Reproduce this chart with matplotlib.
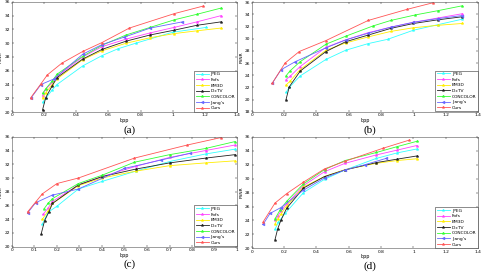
import matplotlib
matplotlib.use("Agg")
import matplotlib.pyplot as plt

# methods, colours and markers (same in all four panels)
methods = ["JPEG", "Fofs", "BM3D", "DicTV", "CONCOLOR", "Jiang's", "Ours"]
colors = ["#33ffff", "#ff44ff", "#ffee00", "#222222", "#33ff33", "#6666ff", "#ff5555"]
markers = ["*", "*", "*", "*", "*", "<", "*"]

# panel (a): bpp / PSNR
a_x = {
    "JPEG":     [0.19, 0.21, 0.25, 0.28, 0.44, 0.56, 0.66, 0.77, 1.0, 1.21],
    "Fofs":     [0.19, 0.21, 0.25, 0.28, 0.44, 0.56, 0.71, 0.86, 1.01, 1.15, 1.3],
    "BM3D":     [0.19, 0.21, 0.25, 0.28, 0.44, 0.56, 0.71, 0.86, 1.01, 1.15, 1.3],
    "DicTV":    [0.19, 0.21, 0.25, 0.28, 0.44, 0.56, 0.71, 0.86, 1.01, 1.15, 1.3],
    "CONCOLOR": [0.19, 0.21, 0.25, 0.28, 0.44, 0.56, 0.71, 0.86, 1.01, 1.15, 1.3],
    "Jiang's":  [0.117, 0.18, 0.26, 0.44, 0.56, 0.7, 0.86, 1.06],
    "Ours":     [0.117, 0.18, 0.22, 0.31, 0.44, 0.56, 0.73, 1.01, 1.19],
}
a_y = {
    "JPEG":     [21.4, 22.0, 23.2, 24.0, 26.7, 28.2, 29.2, 30.0, 31.6, 32.3],
    "Fofs":     [22.4, 23.3, 24.3, 25.2, 28.0, 29.5, 30.6, 31.5, 32.3, 33.1, 34.0],
    "BM3D":     [22.0, 22.8, 24.0, 24.8, 27.6, 28.9, 30.0, 30.8, 31.4, 31.8, 32.2],
    "DicTV":    [20.3, 22.1, 23.8, 25.0, 27.7, 29.1, 30.3, 31.2, 31.9, 32.6, 33.1],
    "CONCOLOR": [22.7, 23.4, 24.5, 25.5, 28.1, 29.7, 31.2, 32.3, 33.4, 34.2, 35.1],
    "Jiang's":  [22.0, 24.0, 24.8, 28.4, 29.8, 30.9, 32.2, 33.1],
    "Ours":     [22.1, 24.1, 25.4, 27.1, 28.8, 30.1, 32.2, 34.3, 35.4],
}

# panel (b)
b_x = {
    "JPEG":     [0.212, 0.232, 0.30, 0.459, 0.58, 0.72, 0.84, 1.0, 1.15, 1.3],
    "Fofs":     [0.212, 0.236, 0.298, 0.459, 0.58, 0.72, 0.86, 1.0, 1.15, 1.3],
    "BM3D":     [0.212, 0.236, 0.298, 0.459, 0.58, 0.72, 0.86, 1.0, 1.15, 1.3],
    "DicTV":    [0.212, 0.232, 0.30, 0.459, 0.58, 0.72, 0.86, 1.0, 1.15, 1.3],
    "CONCOLOR": [0.212, 0.236, 0.298, 0.459, 0.58, 0.75, 0.86, 1.01, 1.15, 1.3],
    "Jiang's":  [0.127, 0.181, 0.267, 0.459, 0.58, 0.72, 0.86, 1.0, 1.15, 1.3],
    "Ours":     [0.127, 0.206, 0.294, 0.459, 0.72, 0.957, 1.12],
}
b_y = {
    "JPEG":     [21.2, 22.0, 23.9, 26.6, 28.1, 29.2, 29.9, 31.4, 32.3, 33.2],
    "Fofs":     [23.3, 23.8, 25.4, 28.6, 29.8, 31.0, 31.9, 32.7, 33.4, 34.1],
    "BM3D":     [22.4, 23.0, 24.9, 28.1, 29.3, 30.3, 31.2, 31.8, 32.2, 32.5],
    "DicTV":    [20.0, 22.1, 24.7, 27.9, 29.5, 30.6, 31.7, 32.5, 33.1, 33.6],
    "CONCOLOR": [23.9, 24.7, 26.2, 29.1, 30.4, 32.1, 33.0, 33.9, 34.6, 35.4],
    "Jiang's":  [22.7, 24.9, 26.2, 28.5, 29.8, 30.9, 31.9, 32.7, 33.3, 33.8],
    "Ours":     [22.7, 26.0, 27.9, 29.7, 33.0, 34.8, 35.9],
}

# panel (c)
c_x = {
    "JPEG":     [0.135, 0.16, 0.2, 0.295, 0.4, 0.55, 0.7, 0.86, 0.99],
    "Fofs":     [0.138, 0.16, 0.18, 0.295, 0.4, 0.55, 0.7, 0.86, 0.99],
    "BM3D":     [0.135, 0.16, 0.18, 0.295, 0.4, 0.55, 0.7, 0.86, 0.99],
    "DicTV":    [0.13, 0.145, 0.163, 0.18, 0.295, 0.4, 0.55, 0.7, 0.86, 0.99],
    "CONCOLOR": [0.142, 0.16, 0.18, 0.295, 0.4, 0.544, 0.7, 0.86, 0.99],
    "Jiang's":  [0.069, 0.105, 0.178, 0.295, 0.5, 0.66, 0.79],
    "Ours":     [0.069, 0.105, 0.135, 0.20, 0.295, 0.544, 0.778, 0.93],
}
c_y = {
    "JPEG":     [23.3, 25.0, 25.9, 28.4, 29.5, 31.0, 32.4, 33.5, 34.2],
    "Fofs":     [24.7, 25.6, 26.6, 29.0, 30.2, 31.7, 33.0, 34.0, 34.8],
    "BM3D":     [24.0, 25.2, 26.3, 28.9, 30.0, 31.0, 31.8, 32.2, 32.5],
    "DicTV":    [21.9, 23.8, 25.0, 26.3, 29.0, 30.2, 31.3, 32.2, 32.9, 33.4],
    "CONCOLOR": [25.5, 26.3, 27.0, 29.2, 30.4, 32.3, 33.4, 34.3, 35.3],
    "Jiang's":  [24.9, 26.4, 27.5, 28.4, 31.4, 32.6, 33.6],
    "Ours":     [25.05, 26.5, 27.7, 29.2, 30.0, 32.9, 34.8, 35.9],
}

# panel (d)
d_x = {
    "JPEG":     [0.144, 0.165, 0.206, 0.32, 0.45, 0.577, 0.77, 0.9, 1.02],
    "Fofs":     [0.144, 0.16, 0.18, 0.216, 0.32, 0.45, 0.577, 0.77, 0.9, 1.02],
    "BM3D":     [0.144, 0.16, 0.18, 0.216, 0.32, 0.45, 0.577, 0.77, 0.9, 1.02],
    "DicTV":    [0.144, 0.16, 0.18, 0.216, 0.32, 0.45, 0.577, 0.77, 0.9, 1.02],
    "CONCOLOR": [0.144, 0.175, 0.216, 0.32, 0.45, 0.577, 0.77, 0.9, 1.02],
    "Jiang's":  [0.072, 0.113, 0.18, 0.32, 0.45, 0.577, 0.7, 0.83],
    "Ours":     [0.072, 0.144, 0.216, 0.32, 0.45, 0.577, 0.81, 0.97],
}
d_y = {
    "JPEG":     [22.75, 23.75, 25.0, 28.0, 29.9, 31.25, 32.9, 33.7, 34.25],
    "Fofs":     [24.0, 24.6, 25.3, 26.4, 29.0, 31.0, 32.2, 33.4, 34.1, 34.75],
    "BM3D":     [23.5, 24.2, 24.9, 26.1, 28.8, 30.3, 31.3, 32.2, 32.6, 32.85],
    "DicTV":    [21.25, 22.75, 24.0, 25.75, 28.65, 30.3, 31.25, 32.3, 32.8, 33.25],
    "CONCOLOR": [24.25, 25.5, 26.75, 29.25, 31.3, 32.6, 33.75, 34.6, 35.35],
    "Jiang's":  [23.5, 25.0, 25.85, 28.35, 30.1, 31.25, 32.0, 32.9],
    "Ours":     [23.85, 26.5, 27.85, 29.5, 31.4, 32.5, 34.35, 35.5],
}

panels = [
    ("(a)", a_x, a_y, [0.0247, 0.588, 0.464, 0.405], (0, 1.4), [0, 0.2, 0.4, 0.6, 0.8, 1, 1.2, 1.4], (20, 36), -0.04),
    ("(b)", b_x, b_y, [0.519, 0.589, 0.467, 0.403], (0, 1.4), [0, 0.2, 0.4, 0.6, 0.8, 1, 1.2, 1.4], (18, 36), -0.036),
    ("(c)", c_x, c_y, [0.0247, 0.093, 0.464, 0.404], (0, 1), [0, 0.1, 0.2, 0.3, 0.4, 0.5, 0.6, 0.7, 0.8, 0.9, 1], (20, 36), -0.04),
    ("(d)", d_x, d_y, [0.519, 0.087, 0.467, 0.410], (0, 1.4), [0, 0.2, 0.4, 0.6, 0.8, 1, 1.2, 1.4], (20, 36), -0.036),
]

fig = plt.figure(figsize=(4.85, 2.72), dpi=100)

for label, xs, ys, pos, xlim, xticks, ylim, ylab_x in panels:
    ax = fig.add_axes(pos)
    for m, c, mk in zip(methods, colors, markers):
        ax.plot(xs[m], ys[m], color=c, marker=mk, markersize=2, linewidth=0.6,
                markeredgewidth=0.4, label=m)
    ax.set_xlim(*xlim)
    ax.set_ylim(*ylim)
    ax.set_xticks(xticks)
    ax.set_xticklabels([("%g" % t) for t in xticks])
    ax.set_yticks(range(ylim[0], ylim[1] + 1, 2))
    ax.tick_params(direction="in", top=True, right=True, labelsize=3.2,
                   length=1.5, width=0.3, pad=1)
    for s in ax.spines.values():
        s.set_linewidth(0.4)
        s.set_color("#555555")
    ax.set_xlabel("bpp", fontsize=3.5, labelpad=0.5)
    ax.set_ylabel("PSNR", fontsize=3.2)
    ax.yaxis.set_label_coords(ylab_x, 0.5)
    leg = ax.legend(loc="lower right", fontsize=3.2, handlelength=3.0,
                    borderaxespad=0.1, labelspacing=0.35, borderpad=0.3,
                    handletextpad=0.4, fancybox=False, framealpha=1)
    leg.get_frame().set_linewidth(0.4)
    leg.get_frame().set_edgecolor("#333333")
    fig.text(pos[0] + pos[2] / 2 + 0.01, pos[1] - 0.066, label, ha="center", va="center",
             fontsize=8, family="Liberation Serif")

fig.savefig("out.png", dpi=100)
